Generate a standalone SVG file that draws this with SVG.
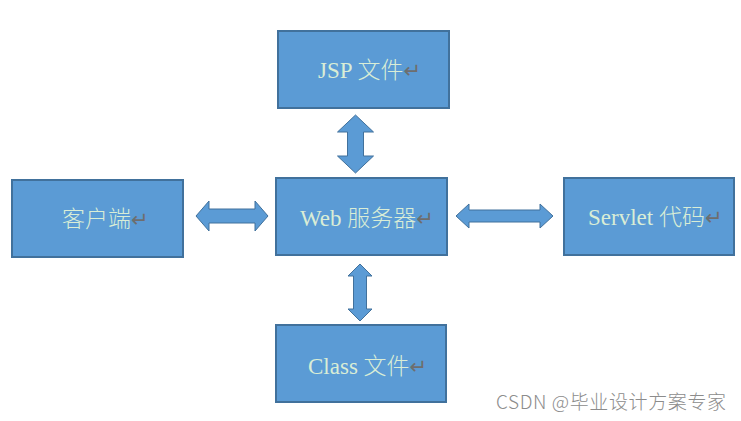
<svg xmlns="http://www.w3.org/2000/svg" width="741" height="421" viewBox="0 0 741 421">
<style>
.box{fill:#5B9BD5;stroke:#41719C;stroke-width:2}
.arr{fill:#5B9BD5;stroke:#41719C;stroke-width:1;stroke-linejoin:miter}
.lbl{font-family:"Liberation Serif","Noto Sans CJK SC",serif;font-size:23px;font-weight:300;fill:#D9EDD6}
.ret{font-family:"DejaVu Sans",sans-serif;font-size:21px;font-weight:400;fill:#6E6E6E}
.wm{font-family:"Noto Sans CJK SC","Liberation Sans",sans-serif;font-size:19px;font-weight:300;fill:#8c8c8c}
</style>
<rect width="741" height="421" fill="#ffffff"/>
<g id="connectors">
<polygon class="arr" points="355.5,115 373.5,132 363.5,132 363.5,156 373.5,156 355.5,173 337.5,156 347.5,156 347.5,132 337.5,132"/>
<polygon class="arr" points="360,264 372,276 366.5,276 366.5,309 372,309 360,321 348,309 353.5,309 353.5,276 348,276"/>
<polygon class="arr" points="196,216 209,201 209,209 255,209 255,201 268,216 255,231 255,223 209,223 209,231"/>
<polygon class="arr" points="456,216 469,204 469,210 540,210 540,204 553,216 540,228 540,222 469,222 469,228"/>
</g>
<g id="jsp">
<rect class="box" x="278" y="31" width="171" height="77"/>
<text class="lbl" x="318" y="78">JSP 文件<tspan class="ret">↵</tspan></text>
</g>
<g id="web">
<rect class="box" x="276" y="178" width="171" height="77"/>
<text class="lbl" x="300" y="226">Web 服务器<tspan class="ret">↵</tspan></text>
</g>
<g id="client">
<rect class="box" x="12" y="180" width="171" height="77"/>
<text class="lbl" x="62" y="227">客户端<tspan class="ret">↵</tspan></text>
</g>
<g id="servlet">
<rect class="box" x="564" y="178" width="170" height="77"/>
<text class="lbl" x="588" y="225">Servlet 代码<tspan class="ret">↵</tspan></text>
</g>
<g id="class">
<rect class="box" x="276" y="325" width="170" height="77"/>
<text class="lbl" x="308" y="374">Class 文件<tspan class="ret">↵</tspan></text>
</g>
<text class="wm" x="496" y="409" textLength="230" lengthAdjust="spacing">CSDN @毕业设计方案专家</text>
</svg>
